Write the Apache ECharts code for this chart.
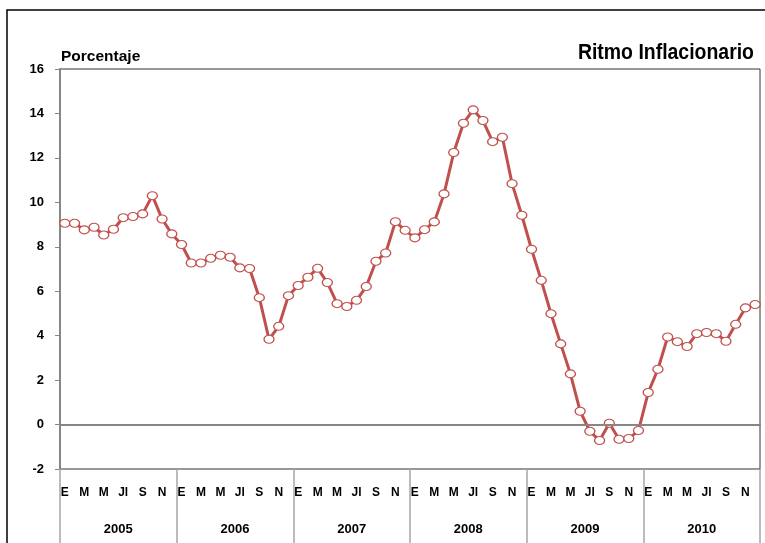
<!DOCTYPE html>
<html>
<head>
<meta charset="utf-8">
<script src="https://cdn.jsdelivr.net/npm/echarts@6/dist/echarts.min.js"></script>
<style>
  html, body { margin: 0; padding: 0; background: #fff; }
  #chart { width: 765px; height: 543px; }
</style>
</head>
<body>
<div id="chart"></div>
<script>
// Monthly inflation rate, 2005–2010 (percent)
const years = ['2005', '2006', '2007', '2008', '2009', '2010'];
const monthLabels = ['E', 'F', 'M', 'A', 'M', 'J', 'Jl', 'A', 'S', 'O', 'N', 'D'];
const yTicks = { min: -2, max: 16, step: 2 };

const rate2005 = [9.06, 9.06, 8.76, 8.88, 8.53, 8.79, 9.31, 9.36, 9.48, 10.30, 9.25, 8.58];
const rate2006 = [8.10, 7.27, 7.27, 7.48, 7.62, 7.53, 7.05, 7.02, 5.71, 3.84, 4.42, 5.80];
const rate2007 = [6.26, 6.63, 7.03, 6.39, 5.44, 5.31, 5.59, 6.21, 7.35, 7.72, 9.13, 8.74];
const rate2008 = [8.40, 8.77, 9.12, 10.38, 12.24, 13.56, 14.16, 13.68, 12.73, 12.93, 10.84, 9.42];
const rate2009 = [7.89, 6.49, 4.99, 3.63, 2.28, 0.60, -0.30, -0.72, 0.06, -0.66, -0.63, -0.27];
const rate2010 = [1.44, 2.49, 3.94, 3.73, 3.51, 4.09, 4.14, 4.09, 3.75, 4.51, 5.25, 5.40];

const rates = [].concat(rate2005, rate2006, rate2007, rate2008, rate2009, rate2010);

// one category per month, e.g. "2005-0"; the label shows the month initial
const monthCats = [];
years.forEach(function (y) {
  monthLabels.forEach(function (m, i) { monthCats.push(y + '-' + i); });
});

const FONT = '"Liberation Sans", Arial, sans-serif';
const RED = '#c0504d';
const AXIS_GRAY = '#868686';

const chart = echarts.init(document.getElementById('chart'), null, { renderer: 'canvas' });

chart.setOption({
  animation: false,
  backgroundColor: '#ffffff',
  textStyle: { fontFamily: FONT },
  title: [
    {
      text: 'Porcentaje',
      left: 56, top: 44,
      textStyle: { fontFamily: FONT, fontSize: 15.5, fontWeight: 'bold', color: '#000' }
    }
  ],
  graphic: [
    {
      type: 'rect',
      silent: true,
      shape: { x: 7, y: 10, width: 900, height: 700 },
      style: { fill: 'none', stroke: '#000', lineWidth: 1.5 }
    },
    {
      // slightly condensed heading, right-aligned above the plot
      type: 'text',
      silent: true,
      x: 754, y: 53,
      scaleX: 0.884,
      style: {
        text: 'Ritmo Inflacionario',
        font: 'bold 22px ' + FONT,
        fill: '#000',
        textAlign: 'right',
        textVerticalAlign: 'middle'
      }
    }
  ],
  grid: {
    left: 60, right: 5, top: 69, bottom: 74,
    show: true, borderColor: '#333', borderWidth: 1, backgroundColor: 'transparent'
  },
  xAxis: [
    {
      type: 'category',
      data: monthCats,
      position: 'bottom',
      boundaryGap: true,
      axisLine: { show: true, lineStyle: { color: AXIS_GRAY, width: 2 } },
      axisTick: { show: false },
      axisLabel: {
        interval: function (i) { return i % 2 === 0; },
        formatter: function (v) { return monthLabels[+v.split('-')[1]]; },
        margin: 18,
        fontFamily: FONT, fontSize: 12, fontWeight: 'bold', color: '#000'
      },
      splitLine: { show: false }
    },
    {
      type: 'category',
      data: years,
      position: 'bottom',
      offset: 0,
      boundaryGap: true,
      axisLine: { show: false },
      axisTick: { show: true, interval: 0, length: 74, lineStyle: { color: '#a6a6a6', width: 1.5 } },
      axisLabel: {
        interval: 0,
        margin: 54,
        fontFamily: FONT, fontSize: 13, fontWeight: 'bold', color: '#000'
      },
      splitLine: { show: false }
    }
  ],
  yAxis: {
    type: 'value',
    min: yTicks.min, max: yTicks.max, interval: yTicks.step,
    axisLine: { show: true, lineStyle: { color: AXIS_GRAY, width: 2 } },
    axisTick: { show: true, length: 5, lineStyle: { color: AXIS_GRAY, width: 1 } },
    axisLabel: { margin: 16, fontFamily: FONT, fontSize: 13, fontWeight: 'bold', color: '#000' },
    splitLine: { show: false }
  },
  series: [
    {
      type: 'line',
      xAxisIndex: 0,
      data: rates,
      symbol: 'circle',
      symbolSize: [10, 8],
      showAllSymbol: true,
      lineStyle: { color: RED, width: 3 },
      itemStyle: { color: '#ffffff', borderColor: RED, borderWidth: 1.2 },
      markLine: {
        silent: true,
        symbol: 'none',
        label: { show: false },
        lineStyle: { color: AXIS_GRAY, width: 2, type: 'solid' },
        data: [{ yAxis: 0 }]
      },
      z: 3
    }
  ]
});
</script>
</body>
</html>
